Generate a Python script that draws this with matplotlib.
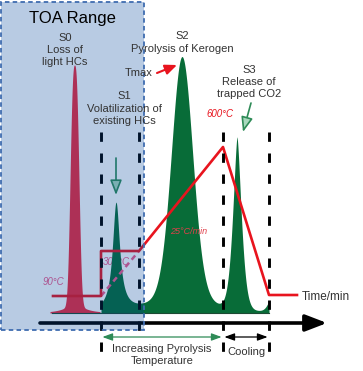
import numpy as np
import matplotlib.pyplot as plt
from matplotlib.patches import Rectangle

plt.rcParams['font.family'] = ['Liberation Sans', 'DejaVu Sans']

# peak table (time position, signal height, width, shape)
peak_names = ['S0', 'S1', 'S2', 'S3', 'tail']
peak_pos = [74.5, 116, 182, 237, 278]
peak_height = [248, 108, 256, 172, 34]
peak_width = [5.3, 1.0, 15.0, 6.1, 8.5]
peak_power = [2.7, 2.0, 2.0, 1.5, 2.0]
peak_lor_frac = [0.036, 1.0, 0.2, 0.0, 0.0]
peak_lor_width = [11, 4.3, 16, 1, 1]

# oven temperature program (time, plotted level)
prog_time = [53, 101, 101, 139, 223, 269, 297]
prog_level = [17, 17, 62, 62, 166, 18, 18]
ramp_time = [101, 139]
ramp_level = [17, 62]

# stage boundaries
bounds = [101, 139, 223, 269]


def profile(x, c, h, w, p, eta, g):
    d = np.abs(x - c)
    return h * ((1 - eta) * np.exp(-(d / w) ** p) + eta / (1 + (d / g) ** 2))


fig = plt.figure(figsize=(3.63, 3.71), dpi=100)
ax = fig.add_axes([0, 0, 1, 1])
ax.set_xlim(0, 363)
ax.set_ylim(-58, 313)
ax.axis('off')

# S0 in red
x0 = np.linspace(50, 100, 600)
s0 = profile(x0, peak_pos[0], peak_height[0], peak_width[0], peak_power[0],
             peak_lor_frac[0], peak_lor_width[0])
ax.fill_between(x0, 0, s0, color='#f0283c', lw=0, zorder=2)

# S1..S3 in green
xg = np.linspace(101, 269, 2000)
sg = np.zeros_like(xg)
for i in range(1, len(peak_names)):
    sg += profile(xg, peak_pos[i], peak_height[i], peak_width[i], peak_power[i],
                  peak_lor_frac[i], peak_lor_width[i])
ax.fill_between(xg, 0, sg, color='#086c38', lw=0, zorder=2)
ax.plot([52, 269], [0, 0], color='#1d4a34', lw=0.8, zorder=2)

# temperature labels (300 sits under the S1 peak)
ax.text(116, 51, '300\u00b0C', color='#f05a8c', fontsize=7, style='italic',
        ha='center', va='center', zorder=1)
ax.text(53, 31, '90\u00b0C', color='#f05a8c', fontsize=7, style='italic',
        ha='center', va='center', zorder=3)

# temperature program
ax.plot(ramp_time, ramp_level, color='#f05a8c', lw=1.8, ls=(0, (2.2, 1.6)), zorder=3)
ax.plot(prog_time, prog_level, color='#e8141e', lw=1.9, zorder=4)

# stage boundaries
for b in bounds:
    low = -22 if b == 139 else -44
    ax.plot([b, b], [181, low], color='black', lw=2.1, ls=(0, (3.2, 4.0)), zorder=5)

# time axis
ax.annotate('', xy=(327, -10), xytext=(40, -10),
            arrowprops=dict(arrowstyle='-|>,head_length=1.3,head_width=0.5',
                            lw=2.6, color='black', shrinkA=0, shrinkB=0), zorder=5)
ax.annotate('', xy=(223, -24), xytext=(101, -24),
            arrowprops=dict(arrowstyle='<|-|>,head_length=0.6,head_width=0.22',
                            lw=0.9, color='#2e8b57', shrinkA=1, shrinkB=1), zorder=5)
ax.annotate('', xy=(269, -24), xytext=(223, -24),
            arrowprops=dict(arrowstyle='<|-|>,head_length=0.6,head_width=0.22',
                            lw=0.9, color='black', shrinkA=1, shrinkB=1), zorder=5)

# pointer arrows
ax.annotate('', xy=(116, 118), xytext=(116, 155),
            arrowprops=dict(arrowstyle='-|>,head_length=0.9,head_width=0.35',
                            lw=1.2, ec='#2e8b57', fc='#a8d8bc', shrinkA=0, shrinkB=0), zorder=5)
ax.annotate('', xy=(243, 181), xytext=(251, 210),
            arrowprops=dict(arrowstyle='-|>,head_length=0.9,head_width=0.35',
                            lw=1.2, ec='#2e8b57', fc='#a8d8bc', shrinkA=0, shrinkB=0), zorder=5)
ax.annotate('', xy=(177, 248), xytext=(157, 240),
            arrowprops=dict(arrowstyle='-|>,head_length=0.7,head_width=0.3',
                            lw=1.5, color='#e8141e', shrinkA=0, shrinkB=0), zorder=5)

# TOA range box
ax.add_patch(Rectangle((1, -17), 143, 328, facecolor=(0.0, 0.27, 0.61, 0.28),
                       edgecolor='#3f6cb0', lw=1.3, ls=(0, (2.5, 1.8)), zorder=6))

# labels
lab = '#333333'
ax.text(72, 295, 'TOA Range', fontsize=12, ha='center', va='center', zorder=7)
ax.text(65, 263, 'S0\nLoss of\nlight HCs', fontsize=8, color=lab, ha='center',
        va='center', linespacing=1.3, zorder=7)
ax.text(124, 204.5, 'S1\nVolatilization of\nexisting HCs', fontsize=8, color=lab,
        ha='center', va='center', linespacing=1.3, zorder=7)
ax.text(182, 270.5, 'S2\nPyrolysis of Kerogen', fontsize=8, color=lab,
        ha='center', va='center', linespacing=1.3, zorder=7)
ax.text(139, 240, 'Tmax', fontsize=8, color=lab, ha='center', va='center', zorder=7)
ax.text(249, 231, 'S3\nRelease of\ntrapped CO2', fontsize=8, color=lab,
        ha='center', va='center', linespacing=1.3, zorder=7)
ax.text(220, 199, '600\u00b0C', color='#e8141e', fontsize=7, style='italic',
        ha='center', va='center', zorder=7)
ax.text(189, 82, '25\u00b0C/min', color='#e0404a', fontsize=6.5, style='italic',
        ha='center', va='center', zorder=7)
ax.text(302, 16, 'Time/min', fontsize=8.5, color=lab, ha='left', va='center', zorder=7)
ax.text(162, -42, 'Increasing Pyrolysis\nTemperature', fontsize=8, color=lab,
        ha='center', va='center', linespacing=1.25, zorder=7)
ax.text(246, -39, 'Cooling', fontsize=8, color=lab, ha='center', va='center', zorder=7)

fig.savefig('out.png', dpi=100)
